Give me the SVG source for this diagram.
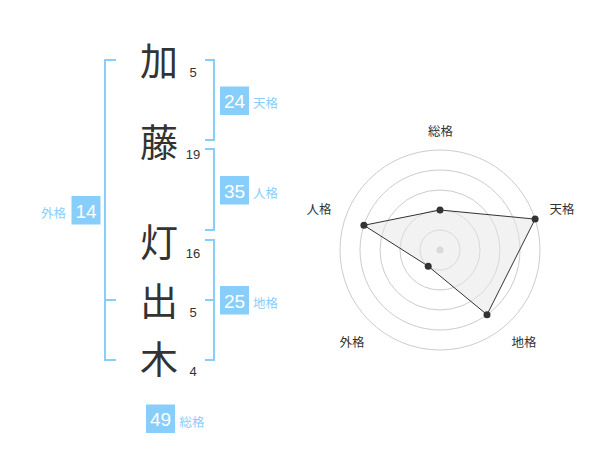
<svg xmlns="http://www.w3.org/2000/svg" width="600" height="470" viewBox="0 0 600 470">
<style>
.kanji{font-family:"Noto Sans CJK JP","Noto Sans CJK SC",sans-serif;font-size:38px;fill:#333;text-anchor:middle}
.num{font-family:"Liberation Sans",Arial,sans-serif;font-size:13px;fill:#333;text-anchor:middle}
.br{fill:none;stroke:#87cefa;stroke-width:2}
.box{fill:#87cefa}
.bnum{font-family:"Liberation Sans",Arial,sans-serif;font-size:19px;fill:#fff;text-anchor:middle}
.blab{font-family:"Noto Sans CJK JP",sans-serif;font-size:12.5px;fill:#87cefa}
.ring{fill:none;stroke:#cccccc;stroke-width:1}
.rlab{font-family:"Noto Sans CJK JP",sans-serif;font-size:12.5px;fill:#333;text-anchor:middle}
.dot{fill:#333}
</style>
<rect width="600" height="470" fill="#fff"/>
<g id="chars">
<text class="kanji" x="159" y="74.5">加</text>
<text class="kanji" x="159" y="156">藤</text>
<text class="kanji" x="159" y="255.5">灯</text>
<text class="kanji" x="159" y="314.5">出</text>
<text class="kanji" x="159" y="372.5">木</text>
<text class="num" x="193" y="77">5</text>
<text class="num" x="193" y="159">19</text>
<text class="num" x="193" y="258">16</text>
<text class="num" x="193" y="317">5</text>
<text class="num" x="193" y="376">4</text>
</g>
<g id="connectors">
<path class="br" d="M116,60 H105 V360 H116 M105,300 H116"/>
<path class="br" d="M205,60 H214 V140 H205"/>
<path class="br" d="M205,149 H214 V230 H205"/>
<path class="br" d="M205,240 H214 V360 H205 M214,300 H205"/>
</g>
<g id="tenkaku">
<rect class="box" x="220" y="86.5" width="29" height="28.5"/>
<text class="bnum" x="234.5" y="108">24</text>
<text class="blab" x="253" y="108">天格</text>
</g>
<g id="jinkaku">
<rect class="box" x="220" y="176" width="29" height="28.5"/>
<text class="bnum" x="234.5" y="197.5">35</text>
<text class="blab" x="253" y="198">人格</text>
</g>
<g id="chikaku">
<rect class="box" x="220" y="286" width="29" height="28.5"/>
<text class="bnum" x="234.5" y="307.5">25</text>
<text class="blab" x="253" y="308">地格</text>
</g>
<g id="gaikaku">
<rect class="box" x="71.5" y="196" width="29" height="28.5"/>
<text class="bnum" x="86" y="217.5">14</text>
<text class="blab" x="41" y="218">外格</text>
</g>
<g id="soukaku">
<rect class="box" x="146" y="404.5" width="29" height="28.5"/>
<text class="bnum" x="160.5" y="426">49</text>
<text class="blab" x="179.5" y="427">総格</text>
</g>
<g id="radar">
<circle class="ring" cx="440" cy="250" r="20"/>
<circle class="ring" cx="440" cy="250" r="40"/>
<circle class="ring" cx="440" cy="250" r="60"/>
<circle class="ring" cx="440" cy="250" r="80"/>
<circle class="ring" cx="440" cy="250" r="100"/>
<circle cx="440" cy="250" r="3.5" fill="#cccccc"/>
<polygon points="440,210 535.1,219.1 487,314.7 428.2,266.2 363.9,225.3" fill="#e6e6e6" fill-opacity="0.5" stroke="#333" stroke-width="1"/>
<circle class="dot" cx="440" cy="210" r="3.5"/>
<circle class="dot" cx="535.1" cy="219.1" r="3.5"/>
<circle class="dot" cx="487" cy="314.7" r="3.5"/>
<circle class="dot" cx="428.2" cy="266.2" r="3.5"/>
<circle class="dot" cx="363.9" cy="225.3" r="3.5"/>
<text class="rlab" x="440.5" y="135.5">総格</text>
<text class="rlab" x="562" y="213.5">天格</text>
<text class="rlab" x="319" y="213.5">人格</text>
<text class="rlab" x="352" y="347">外格</text>
<text class="rlab" x="524" y="347">地格</text>
</g>
</svg>
